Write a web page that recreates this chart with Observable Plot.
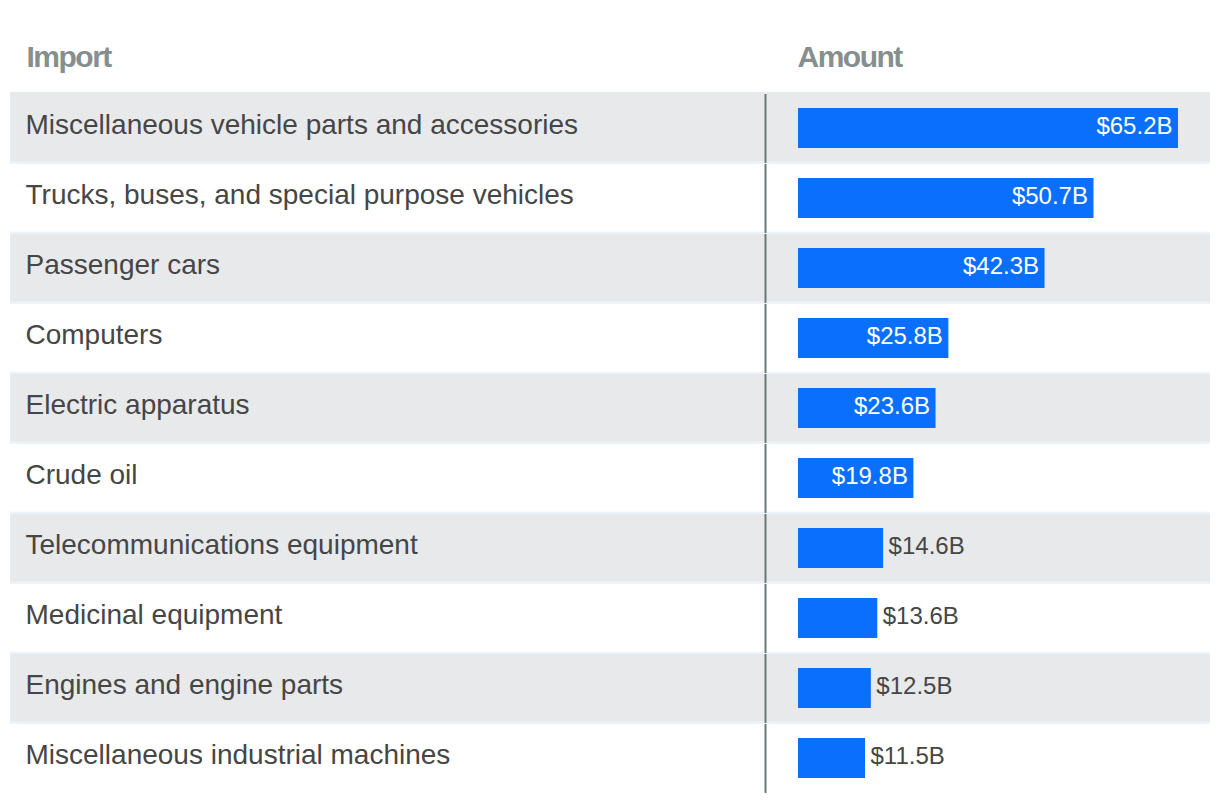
<!DOCTYPE html>
<html>
<head>
<meta charset="utf-8">
<script src="https://cdn.jsdelivr.net/npm/d3@7"></script>
<script src="https://cdn.jsdelivr.net/npm/@observablehq/plot@0.6"></script>
<style>
  html, body { margin: 0; padding: 0; background: #fff; }
  #chart svg { display: block; }
</style>
</head>
<body>
<div id="chart"></div>
<script>
const imports = [
  "Miscellaneous vehicle parts and accessories",
  "Trucks, buses, and special purpose vehicles",
  "Passenger cars",
  "Computers",
  "Electric apparatus",
  "Crude oil",
  "Telecommunications equipment",
  "Medicinal equipment",
  "Engines and engine parts",
  "Miscellaneous industrial machines"
];
const amounts = [65.2, 50.7, 42.3, 25.8, 23.6, 19.8, 14.6, 13.6, 12.5, 11.5];
const headers = ["Import", "Amount"];

const data = imports.map((name, i) => ({name, amount: amounts[i], i}));
const last = data.length - 1;
const fmt = v => `$${v.toFixed(1)}B`;
const font = "'Liberation Sans', Arial, Helvetica, sans-serif";

const grey = "#e8e9eb";
const sep = "#ebf4fa";
const blue = "#0a6ffd";
const textCol = "#464646";
const hdrCol = "#858f8f";

const chart = Plot.plot({
  width: 1220,
  height: 802,
  marginTop: 94,
  marginBottom: 8,
  marginLeft: 10,
  marginRight: 10,
  style: {fontFamily: font, background: "#fff"},
  x: {domain: [0, d3.max(amounts)], range: [798, 1178], axis: null},
  y: {domain: imports, padding: 0, axis: null},
  marks: [
    // separators between rows
    Plot.cell(data, {filter: d => d.i < last, y: "name", fill: sep}),
    // row backgrounds
    Plot.cell(data, {filter: d => d.i < last, y: "name", fill: "#fff", insetBottom: 2.3}),
    Plot.cell(data, {filter: d => d.i === 0, y: "name", fill: grey, insetTop: -2, insetBottom: 2.3}),
    Plot.cell(data, {filter: d => d.i > 0 && d.i % 2 === 0, y: "name", fill: grey, insetBottom: 2.3}),
    // vertical divider
    Plot.tickX(data, {x: 0, y: "name", dx: -33, stroke: "#6c7878", strokeWidth: 2, insetBottom: 1}),
    // bars
    Plot.barX(data, {x: "amount", y: "name", fill: blue, insetTop: 14, insetBottom: 16}),
    // row labels
    Plot.text(data, {y: "name", text: "name", frameAnchor: "left", dx: 15, dy: -4,
      fontSize: 28, fill: textCol, textAnchor: "start"}),
    // value labels inside
    Plot.text(data, {filter: d => d.amount >= 17, x: "amount", y: "name", text: d => fmt(d.amount),
      textAnchor: "end", dx: -6, dy: -3, fontSize: 24, fill: "#fff"}),
    // value labels outside
    Plot.text(data, {filter: d => d.amount < 17, x: "amount", y: "name", text: d => fmt(d.amount),
      textAnchor: "start", dx: 5, dy: -3, fontSize: 24, fill: textCol}),
    // headers
    Plot.text([headers[0]], {text: d => d, frameAnchor: "top-left", dx: 16, dy: -49,
      fontSize: 30, fontWeight: "bold", fill: hdrCol, textAnchor: "start"}),
    Plot.text([headers[1]], {text: d => d, x: () => 0, frameAnchor: "top", dx: -1, dy: -49,
      fontSize: 30, fontWeight: "bold", fill: hdrCol, textAnchor: "start"})
  ]
});
document.getElementById("chart").appendChild(chart);
d3.select(chart).selectAll("text").filter(function() {
  return headers.includes(d3.select(this).text());
}).style("letter-spacing", "-1.5px");
</script>
</body>
</html>
